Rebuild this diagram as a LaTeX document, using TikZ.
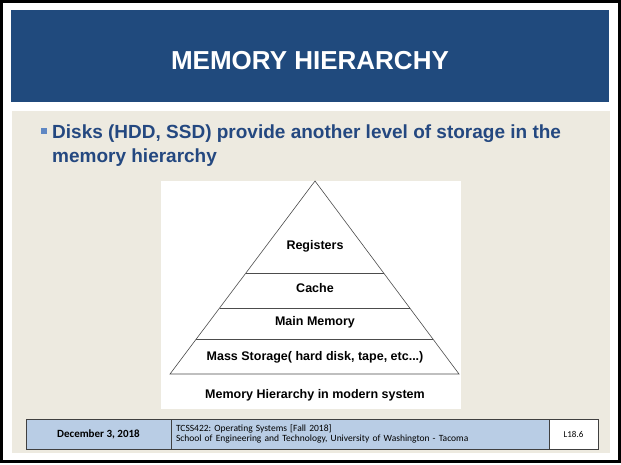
\documentclass[tikz,border=0pt]{standalone}
\usepackage{fontspec}
\setmainfont{Liberation Sans}
\newfontfamily\footfont{Carlito}
\usetikzlibrary{positioning, calc}
\definecolor{hdrblue}{RGB}{32,74,125}
\definecolor{slidebeige}{RGB}{237,234,224}
\definecolor{textblue}{RGB}{36,72,128}
\definecolor{bulletblue}{RGB}{95,135,195}
\definecolor{footblue}{RGB}{185,205,229}
\frenchspacing

\begin{document}
\begin{tikzpicture}[x=1pt, y=-1pt,
    level/.style={font=\bfseries\fontsize{12.5}{14}\selectfont},
    cell/.style={draw=black!75, line width=0.8pt, minimum height=30pt,
                 inner sep=0pt, outer sep=0pt, fill=footblue},
    edge/.style={draw=black!70, line width=0.6pt}]
\useasboundingbox (0,0) rectangle (621,465);

% slide frame
\draw[line width=3pt] (1.5,1.5) rectangle (619.5,461.5);
\fill[hdrblue] (11,10) rectangle (609,102);
\fill[slidebeige] (12,111) rectangle (610,453);

\node (title) at (310,61) [text=white, font=\bfseries\fontsize{26}{30}\selectfont]
    {MEMORY HIERARCHY};

% bullet text
\node (bullet) [fill=bulletblue, minimum size=6pt, inner sep=0pt] at (44,131) {};
\node (line1) [anchor=base west, text=textblue, inner sep=0pt,
               font=\bfseries\fontsize{19}{24}\selectfont] at (52,139)
    {Disks (HDD, SSD) provide another level of storage in the};
\node (line2) [anchor=base west, text=textblue, inner sep=0pt,
               font=\bfseries\fontsize{19}{24}\selectfont] at (52,163)
    {memory hierarchy};

% pyramid picture
\fill[white] (161,181) rectangle (461,409);
\coordinate (apex) at (315,181);
\coordinate (bl) at (170,374);
\coordinate (br) at (459,374);
\draw[edge] (apex) -- (bl) -- (br) -- cycle;
\foreach \t/\n in {0.4767/a, 0.658/b, 0.8187/c}
  \draw[edge] ($(apex)!\t!(bl)$) coordinate (l\n) -- ($(apex)!\t!(br)$) coordinate (r\n);

\node (reg)   [level] at (315,246) {Registers};
\node (cache) [level] at (315,288) {Cache};
\node (mainm) [level] at (315,322) {Main Memory};
\node (mass)  [level] at (315,357) {Mass Storage( hard disk, tape, etc...)};
\node (caption) [level] at (315,395) {Memory Hierarchy in modern system};

% footer
\node (date) [cell, minimum width=145pt, font=\footfont\bfseries\fontsize{11}{13}\selectfont]
    at (98.5,434) {December 3, 2018};
\node (course) [cell, right=0pt of date, text width=368pt, inner xsep=5pt, align=left,
                font=\footfont\fontsize{9.5}{10.5}\selectfont]
    {TCSS422: Operating Systems [Fall 2018]\\
     School of Engineering and Technology, University of Washington - Tacoma};
\node (page) [cell, right=0pt of course, minimum width=49pt, fill=white,
              font=\footfont\fontsize{9}{10}\selectfont] {L18.6};
\end{tikzpicture}
\end{document}
